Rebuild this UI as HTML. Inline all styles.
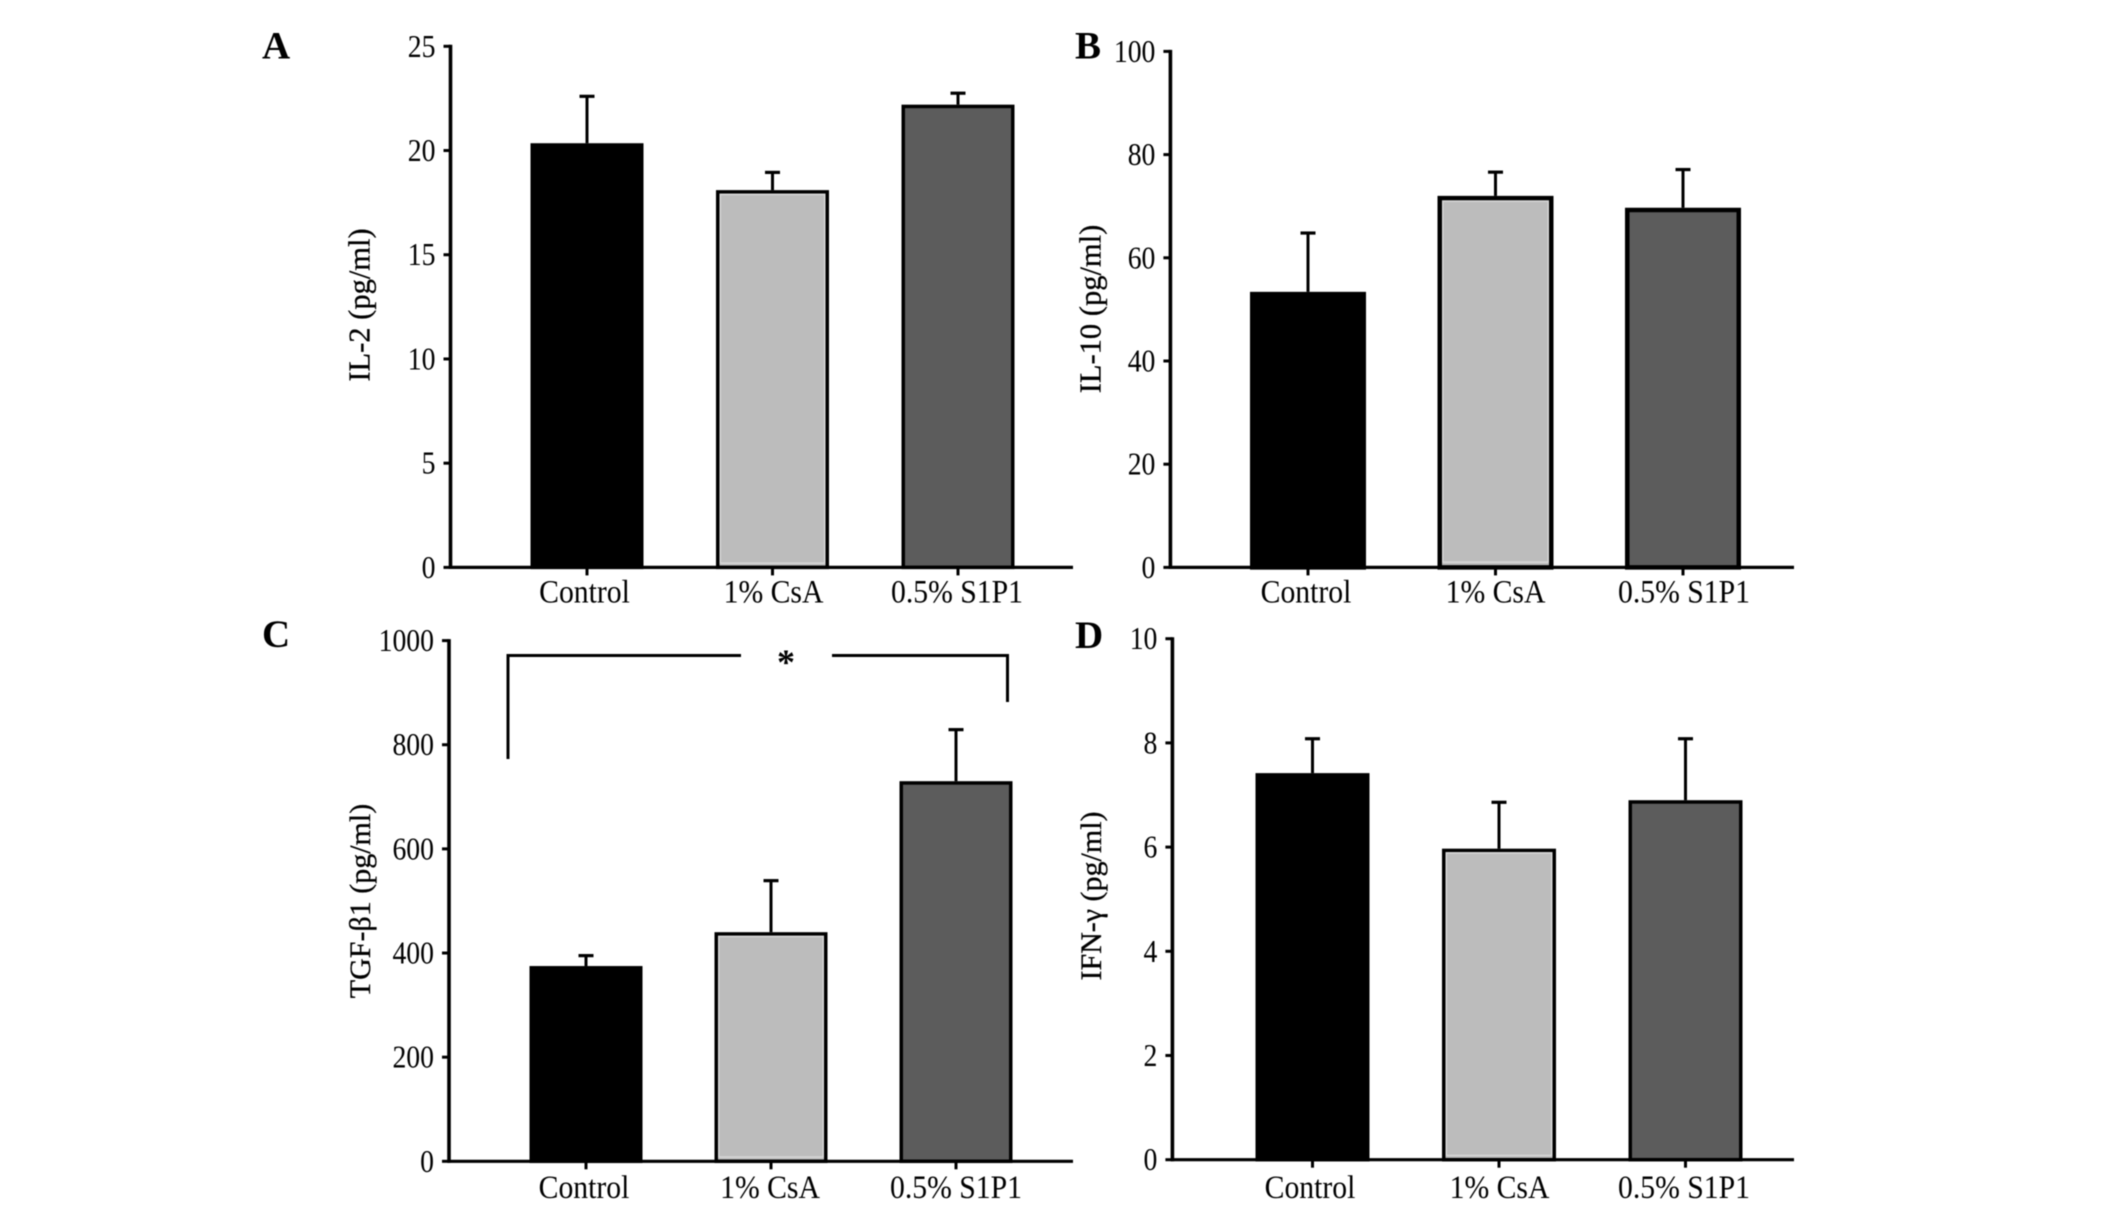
<!DOCTYPE html>
<html lang="en">
<head>
<meta charset="utf-8">
<title>Cytokine levels bar charts</title>
<style>
html,body{margin:0;padding:0;background:#fff;width:2126px;height:1206px;overflow:hidden}
svg{display:block;filter:blur(0.45px)}
text{font-family:"Liberation Serif","Noto Serif CJK SC",serif;fill:#000}
</style>
</head>
<body>
<svg id="figure" width="2126" height="1206" viewBox="0 0 2126 1206" xmlns="http://www.w3.org/2000/svg">
<rect width="2126" height="1206" fill="#fff"/>
</svg>
<script>
const categories = ['Control', '1% CsA', '0.5% S1P1'];

const il2Means = [20.35, 18.1, 22.2];
const il2Errors = [2.25, 0.85, 0.55];
const il2Ticks = [0, 5, 10, 15, 20, 25];

const il10Means = [53.4, 72, 69.7];
const il10Errors = [11.4, 4.6, 7.4];
const il10Ticks = [0, 20, 40, 60, 80, 100];

const tgfMeans = [375, 440, 730];
const tgfErrors = [20, 99, 99];
const tgfTicks = [0, 200, 400, 600, 800, 1000];

const ifnMeans = [7.42, 5.97, 6.9];
const ifnErrors = [0.66, 0.89, 1.18];
const ifnTicks = [0, 2, 4, 6, 8, 10];

const NS = 'http://www.w3.org/2000/svg';
const svg = document.getElementById('figure');
const fills = ['#000000', '#bcbcbc', '#5c5c5c'];

function make(tag, attrs, parent) {
  const el = document.createElementNS(NS, tag);
  for (const k in attrs) el.setAttribute(k, attrs[k]);
  (parent || svg).appendChild(el);
  return el;
}

function drawPanel(p) {
  const group = make('g', {});
  
  

  const yScale = v => p.y0 - (v / p.yMax) * (p.y0 - p.yTop);
  const xScale = i => p.xFirst + p.step * i;

  // bars
  p.means.forEach((m, i) => {
    const cx = xScale(i);
    const top = yScale(m);
    const errTop = yScale(m + p.errors[i]);

    const stem = make('line', {x1: cx, x2: cx, y1: top, y2: errTop, stroke: '#000', 'stroke-width': 3}, group);
    
    

    const cap = make('line', {x1: cx - 7.5, x2: cx + 7.5, y1: errTop, y2: errTop, stroke: '#000', 'stroke-width': 3.2}, group);
    
    

    const sw = p.barStroke;
    const bar = make('rect', {
      x: cx - p.barW / 2 + sw / 2, y: top + sw / 2,
      width: p.barW - sw, height: Math.max(0, p.y0 - top - sw / 2),
      fill: fills[i], stroke: '#000', 'stroke-width': sw
    }, group);
    
    

    if (i === 1) {
      const glow = make('rect', {
        x: cx - p.barW / 2 + sw + 0.75, y: top + sw + 0.75,
        width: p.barW - 2 * sw - 1.5, height: Math.max(0, p.y0 - top - 2 * sw - 1.5),
        fill: 'none', stroke: '#d8d8d8', 'stroke-width': 1.5
      }, group);
      
      
    }

    const tick = make('line', {x1: cx, x2: cx, y1: p.y0, y2: p.y0 + 8, stroke: '#000', 'stroke-width': 3}, group);
    
    

    const label = make('text', {
      transform: 'translate(' + (cx + p.labelShift[i]) + ',' + p.labelY + ') scale(0.9,1)',
      'text-anchor': 'middle', 'font-size': 33
    }, group);
    label.textContent = categories[i];
    
    
  });

  // axes
  const yAxis = make('line', {x1: p.axisX, x2: p.axisX, y1: p.yTop - 1.5, y2: p.y0 + 1.5, stroke: '#000', 'stroke-width': 3.6}, group);
  
  

  const xAxis = make('line', {x1: p.axisX - 1.5, x2: p.axisRight, y1: p.y0, y2: p.y0, stroke: '#000', 'stroke-width': 3.2}, group);
  
  

  p.ticks.forEach(t => {
    const y = yScale(t);
    const tick = make('line', {x1: p.axisX - 7, x2: p.axisX, y1: y, y2: y, stroke: '#000', 'stroke-width': 3}, group);
    
    

    const label = make('text', {
      transform: 'translate(' + (p.axisX - 15) + ',' + (y + 10.5) + ') scale(0.88,1)',
      'text-anchor': 'end', 'font-size': 31.5
    }, group);
    label.textContent = String(t);
    
    
  });

  const title = make('text', {
    transform: 'translate(' + p.titleX + ',' + p.titleY + ') rotate(-90)',
    'text-anchor': 'middle', 'font-size': p.titleSize, stroke: '#000', 'stroke-width': 0.3
  }, group);
  title.textContent = p.title;
  
  

  const letter = make('text', {x: p.letterX, y: p.letterY, 'font-size': 39, 'font-weight': 'bold'}, group);
  letter.textContent = p.letter;
  
  
}

drawPanel({letter: 'A', title: 'IL-2 (pg/ml)', means: il2Means, errors: il2Errors, ticks: il2Ticks, yMax: 25,
  axisX: 450.5, axisRight: 1073, yTop: 46.3, y0: 567.4, xFirst: 587, step: 185.5, barW: 113, barStroke: 3.5,
  labelY: 602.7, labelShift: [-2.5, 1, -1], titleX: 369.5, titleY: 305, titleSize: 30.5, letterX: 262, letterY: 58.5});

drawPanel({letter: 'B', title: 'IL-10 (pg/ml)', means: il10Means, errors: il10Errors, ticks: il10Ticks, yMax: 100,
  axisX: 1170.4, axisRight: 1794, yTop: 51.4, y0: 567.4, xFirst: 1308, step: 187.5, barW: 116, barStroke: 4.5,
  labelY: 602.7, labelShift: [-2, 0, 1], titleX: 1100.7, titleY: 309, titleSize: 30.5, letterX: 1075, letterY: 58.5});

drawPanel({letter: 'C', title: 'TGF-β1 (pg/ml)', means: tgfMeans, errors: tgfErrors, ticks: tgfTicks, yMax: 1000,
  axisX: 449, axisRight: 1073, yTop: 640.6, y0: 1161.3, xFirst: 586, step: 185, barW: 113, barStroke: 3.5,
  labelY: 1198, labelShift: [-2, -1, 0], titleX: 370, titleY: 901, titleSize: 30, letterX: 262, letterY: 647});

drawPanel({letter: 'D', title: 'IFN-γ (pg/ml)', means: ifnMeans, errors: ifnErrors, ticks: ifnTicks, yMax: 10,
  axisX: 1172.4, axisRight: 1794, yTop: 638.7, y0: 1159.7, xFirst: 1312.5, step: 186.5, barW: 114, barStroke: 3.5,
  labelY: 1198, labelShift: [-2.5, 0.5, -1.5], titleX: 1101, titleY: 896, titleSize: 30, letterX: 1075, letterY: 648});

// significance bracket in panel C
const bracketLeft = make('polyline', {points: '508,759 508,655.5 741,655.5', fill: 'none', stroke: '#000', 'stroke-width': 3});



const bracketRight = make('polyline', {points: '832,655.5 1007.5,655.5 1007.5,702', fill: 'none', stroke: '#000', 'stroke-width': 3});



const star = make('text', {x: 786, y: 674, 'text-anchor': 'middle', 'font-size': 36, 'font-weight': 'bold'});
star.textContent = '*';


</script>
</body>
</html>
